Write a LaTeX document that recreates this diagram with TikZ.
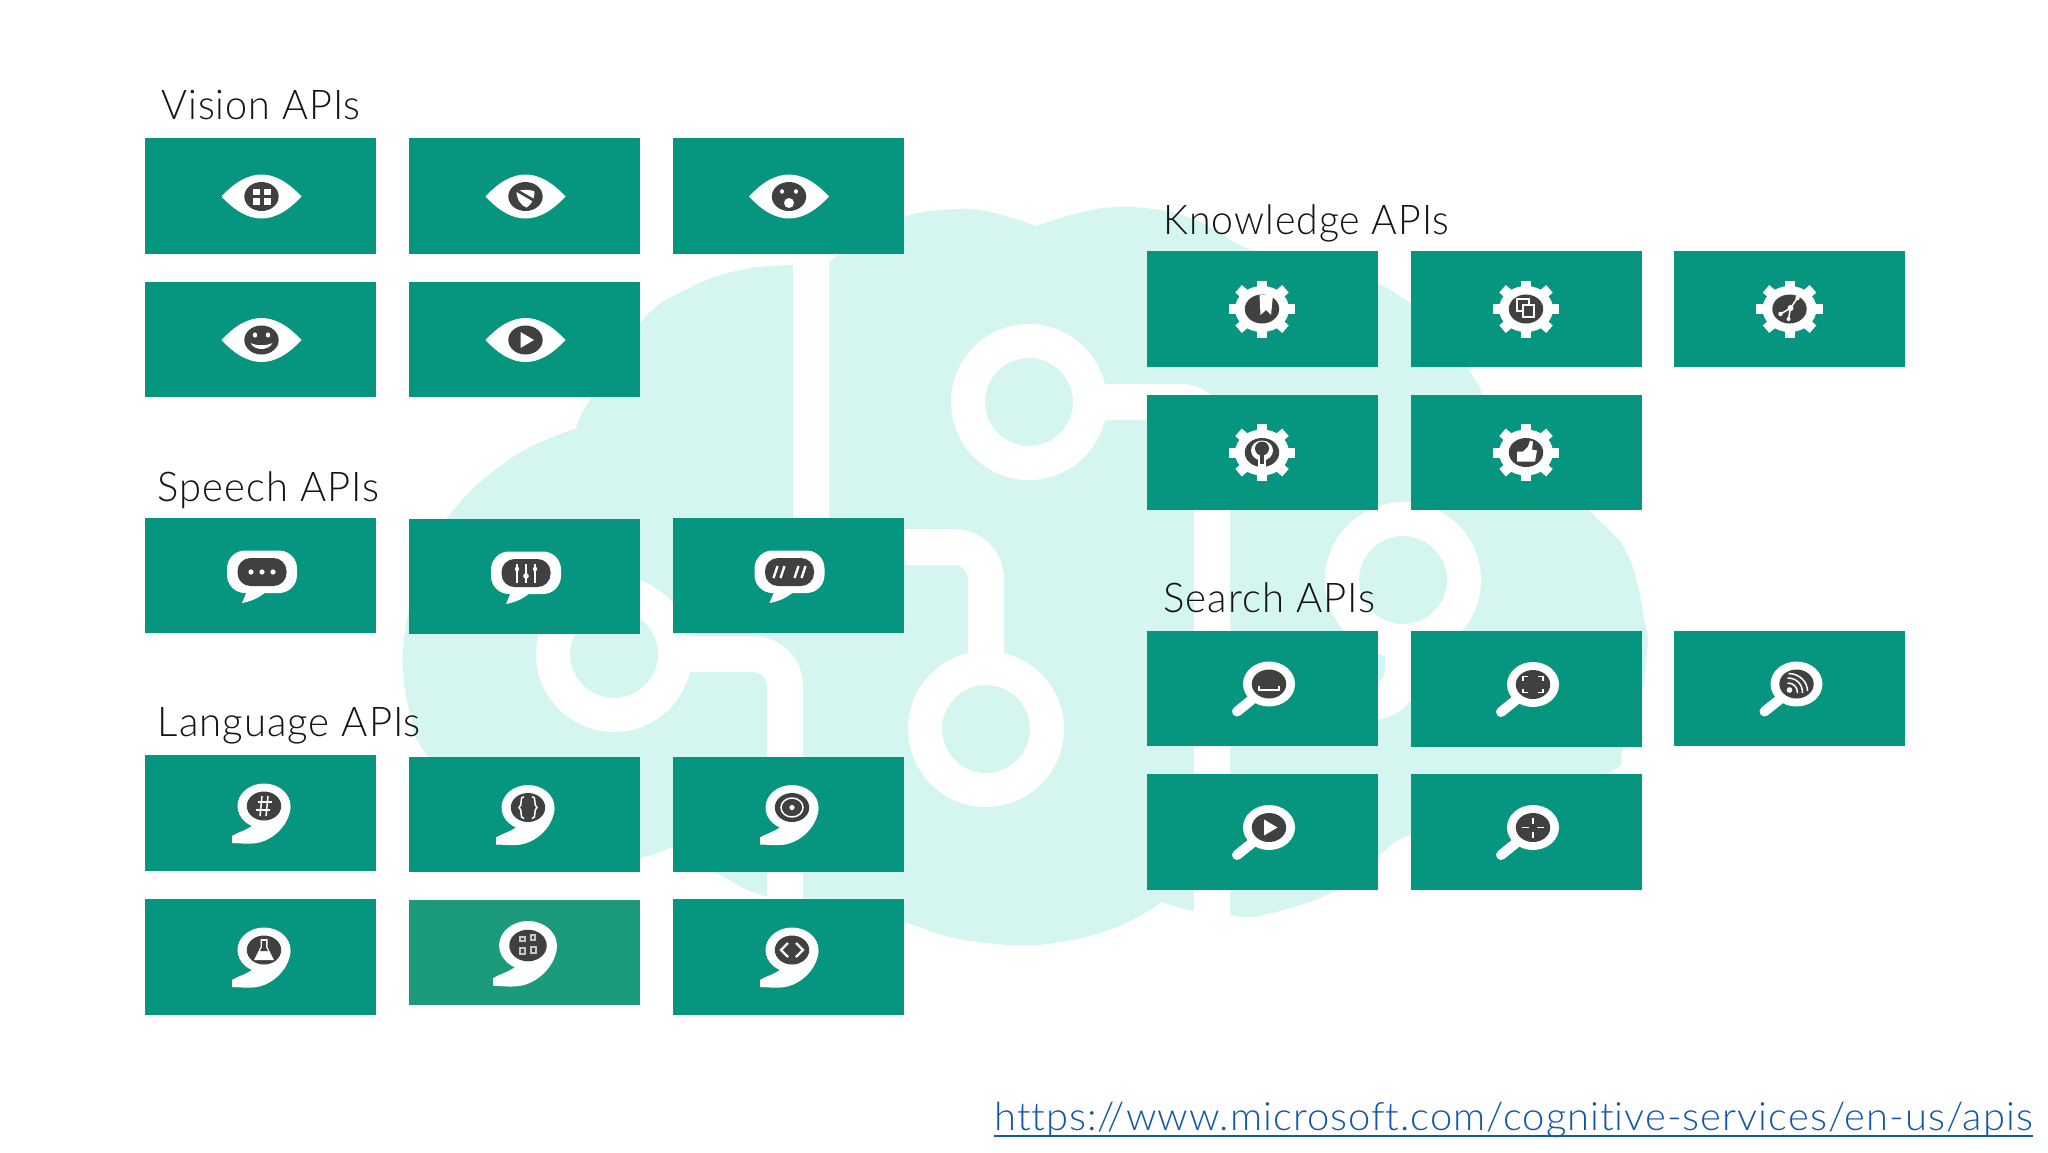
\documentclass[tikz,border=0pt]{standalone}
\usepackage{graphicx}
\usepackage{fontspec}
\newfontfamily\lightfont[Ligatures={NoCommon,NoRequired,NoContextual},LetterSpace=2.5]{Lato Light}
\definecolor{tilec}{HTML}{06957E}
\definecolor{tilesoft}{HTML}{1B9A7C}
\definecolor{cloudc}{HTML}{D5F6F0}
\definecolor{darkc}{HTML}{404040}
\definecolor{linkc}{HTML}{1457A8}
\definecolor{labelc}{HTML}{141414}
\newlength\fitlen
\newcommand\fitw[2]{\settowidth\fitlen{#2}\pgfmathsetmacro\fitf{#1/\fitlen}\scalebox{\fitf}[1]{#2}}
\tikzset{
  tile/.style={fill=tilec,draw=none,inner sep=0pt,minimum width=115.5pt,minimum height=57.75pt},
  softtile/.style={tile,fill=tilesoft,minimum height=52.5pt},
  heading/.style={anchor=base west,inner sep=0pt,text=labelc,font=\lightfont\fontsize{20.5}{24}\selectfont},
  linktext/.style={anchor=base west,inner sep=0pt,text=linkc,font=\lightfont\fontsize{19.5}{24}\selectfont},
  trace/.style={draw=white,line width=18pt,rounded corners=16pt},
  ring/.style={draw=white,line width=17pt,fill=cloudc},
  glyph/.style={fill=white,draw=none},
  stroke/.style={draw=white,line width=.75pt},
  thick stroke/.style={draw=white,line width=1.2pt},
}
\newcommand\pupil{\fill[darkc] (0,0) ellipse [x radius=17.2, y radius=14.5];}
\newcommand\eyeicon[2]{\begin{scope}[shift={(#1.center)},shift={(1,0.5)}]
  \fill[white] (-40,0) .. controls (-26,-15) and (-13,-22) .. (0,-22) .. controls (13,-22) and (26,-15) .. (40,0)
   .. controls (26,15) and (13,22) .. (0,22) .. controls (-13,22) and (-26,15) .. (-40,0) -- cycle;
  \pupil #2\end{scope}}
\newcommand\bubbleicon[2]{\begin{scope}[shift={(#1.center)},shift={(1.5,-3.5)}]
  \fill[white,rounded corners=9pt] (-35,-21.5) rectangle (35,21);
  \fill[white] (-15,19) -- (-20,31) .. controls (-10,29) and (-3,26) .. (5,19) -- cycle;
  \fill[darkc,rounded corners=6.5pt] (-24.5,-14) rectangle (24.5,14);
  #2\end{scope}}
\newcommand\commaicon[3][1]{\begin{scope}[shift={(#2.center)},shift={(4,-7)},scale=#1]
  \fill[white] (0,0) ellipse [x radius=26.5, y radius=22.5];
  \fill[white] (26.5,0) .. controls (26.5,18) and (8,37) .. (-12,37.5) .. controls (-20,38) and (-26,37) .. (-32,37)
    -- (-32,30) .. controls (-26,26) and (-16,24) .. (-10,18) -- cycle;
  \pupil #3\end{scope}}
\newcommand\gearicon[2]{\begin{scope}[shift={(#1.center)}]
  \foreach \a in {0,45,...,315}{\draw[white,line width=5pt] (0,0) -- ({33.2*cos(\a)},{28.5*sin(\a)});}
  \fill[white] (0,0) ellipse [x radius=27, y radius=23];
  \pupil #2\end{scope}}
\newcommand\lensicon[2]{\begin{scope}[shift={(#1.center)}]
  \draw[white,line width=5pt,line cap=round] (-10,11) -- (-25,23);
  \begin{scope}[shift={(7,-4.5)}]
  \fill[white] (0,0) ellipse [x radius=26, y radius=22.5];
  \pupil #2\end{scope}\end{scope}}
\begin{document}
\begin{tikzpicture}[x=0.5pt,y=-0.5pt]
\useasboundingbox (0,0) rectangle (2048,1152);
\fill[white] (0,0) rectangle (2048,1152);
% cloud
\fill[cloudc]
  plot[smooth,tension=.7] coordinates {(578,428)(513,457)(448,517)(415,590)(405,633)(403,670)(410,713)(427,755)(500,830)(580,866)(640,858)(671,847)}
  -- plot[smooth,tension=.7] coordinates {(671,847)(720,875)(768,897)(850,912)(903,922)(950,937)(1010,945)(1060,942)(1117,927)(1162,902)}
  -- plot[smooth,tension=.7] coordinates {(1162,902)(1193,911)(1230,915)(1263,915)(1333,892)(1377,857)(1410,835)(1500,805)(1608,773)(1623,747)(1640,700)(1647,653)(1645,623)(1627,553)(1589,510)(1530,440)(1482,395)}
  -- plot[smooth,tension=.7] coordinates {(1482,395)(1467,368)(1410,303)(1330,265)(1252,250)(1200,222)(1153,209)(1097,209)(1037,226)}
  -- plot[smooth,tension=.7] coordinates {(1037,226)(990,212)(957,209)(907,216)(860,240)(829,262)}
  -- plot[smooth,tension=.7] coordinates {(829,262)(790,265)(740,270)(687,289)(640,323)(584,410)(578,428)}
  -- cycle;
% circuit
\coordinate (jt1) at (811,240);
\coordinate (jb1) at (986,729);
\coordinate (cup) at (1029,402);
\coordinate (jb2) at (1212,930);
\coordinate (crt) at (1403,580);
\coordinate (clf) at (614,654);
\coordinate (jb4) at (785,940);
\draw[trace] (jt1) -- (811,547) -- (986,547) -- (jb1);
\draw[trace] (cup) -- (1212,402) -- (jb2);
\draw[trace] (crt) -- (1403,702) -- (1212,702);
\draw[trace] (clf) -- (785,654) -- (jb4);
\draw[ring] (jb1) circle [radius=61];
\draw[ring] (cup) circle [radius=61];
\draw[ring] (crt) circle [radius=61];
\draw[ring] (clf) circle [radius=61];
% tiles
\node[tile] (v1) at (260.5,196) {};
\node[tile] (v2) at (524.5,196) {};
\node[tile] (v3) at (788,196) {};
\node[tile] (v4) at (260.5,339.5) {};
\node[tile] (v5) at (524.5,339.5) {};
\node[tile] (p1) at (260.5,575.5) {};
\node[tile] (p2) at (524.5,576.5) {};
\node[tile] (p3) at (788,575.5) {};
\node[tile] (l1) at (260,813) {};
\node[tile] (l2) at (524,814.5) {};
\node[tile] (l3) at (788,814.5) {};
\node[tile] (l4) at (260,957) {};
\node[softtile] (l5) at (524,952.5) {};
\node[tile] (l6) at (788,957) {};
\node[tile] (k1) at (1262,309) {};
\node[tile] (k2) at (1526,309) {};
\node[tile] (k3) at (1789.5,309) {};
\node[tile] (k4) at (1262,452.5) {};
\node[tile] (k5) at (1526,452.5) {};
\node[tile] (s1) at (1262,688.5) {};
\node[tile] (s2) at (1526,689) {};
\node[tile] (s3) at (1789.5,688.5) {};
\node[tile] (s4) at (1262,832) {};
\node[tile] (s5) at (1526,832) {};
% headings
\node[heading] (hv) at (161,119) {\fitw{99.5}{Vision APIs}};
\node[heading] (hp) at (157.5,501) {\fitw{110.5}{Speech APIs}};
\node[heading] (hl) at (157.5,736) {\fitw{131.5}{Language APIs}};
\node[heading] (hk) at (1163,234) {\fitw{143}{Knowledge APIs}};
\node[heading] (hs) at (1163,612) {\fitw{106}{Search APIs}};
\node[linktext] (url) at (994,1130) {\fitw{519}{https://www.microsoft.com/cognitive-services/en-us/apis}};
\draw[draw=linkc,line width=1pt] ([yshift=-3pt]url.base west) -- ([yshift=-3pt]url.base east);
% vision icons
\eyeicon{v1}{\fill[glyph] (-9,-8) rectangle (-2,-1.5); \fill[glyph] (2,-8) rectangle (9,-1.5); \fill[glyph] (-9,1.5) rectangle (-2,8); \fill[glyph] (2,1.5) rectangle (9,8);}
\eyeicon{v2}{\fill[glyph] (-9,-6) .. controls (-3,-6) and (2,-8) .. (9,-5) .. controls (9,3) and (5,9) .. (1,11) .. controls (-6,8) and (-9,2) .. (-9,-6) -- cycle;
  \draw[draw=darkc,line width=1.4pt] (-12,-8) -- (12,6);}
\eyeicon{v3}{\fill[glyph] (-7,-5) ellipse [x radius=2, y radius=2.3]; \fill[glyph] (7,-5) ellipse [x radius=2, y radius=2.3]; \fill[glyph] (0,6.5) ellipse [x radius=5, y radius=5];}
\eyeicon{v4}{\fill[glyph] (-6.5,-5) ellipse [x radius=2.2, y radius=2.6]; \fill[glyph] (6.5,-5) ellipse [x radius=2.2, y radius=2.6];
  \fill[glyph] (-11,3) .. controls (-7,11) and (7,11) .. (11,3) .. controls (5,6) and (-5,6) .. (-11,3) -- cycle;}
\eyeicon{v5}{\fill[glyph] (-5,-8) -- (8.5,0) -- (-5,8) -- cycle;}
% speech icons
\bubbleicon{p1}{\fill[glyph] (-11,0) circle [radius=2.6]; \fill[glyph] (0,0) circle [radius=2.6]; \fill[glyph] (11,0) circle [radius=2.6];}
\bubbleicon{p2}{\draw[stroke] (-9,-9) -- (-9,10); \draw[stroke] (0,-9) -- (0,10); \draw[stroke] (9,-9) -- (9,10);
  \fill[glyph] (-9,-4) circle [radius=2.2]; \fill[glyph] (0,3) circle [radius=2.8]; \fill[glyph] (9,-4) circle [radius=2.2];}
\bubbleicon{p3}{\draw[thick stroke] (-16,6) -- (-12,-6); \draw[thick stroke] (-9,6) -- (-5,-6); \draw[thick stroke] (5,6) -- (9,-6); \draw[thick stroke] (12,6) -- (16,-6);}
% language icons
\commaicon{l1}{\draw[stroke] (-6,-4) -- (8,-4); \draw[stroke] (-8,4) -- (6,4); \draw[stroke] (-2,-10) -- (-4,10); \draw[stroke] (4,-10) -- (2,10);}
\commaicon{l2}{\draw[stroke] (-4,-11) .. controls (-9,-11) and (-5,-2) .. (-9,0) .. controls (-5,2) and (-9,11) .. (-4,11);
  \draw[stroke] (4,-11) .. controls (9,-11) and (5,-2) .. (9,0) .. controls (5,2) and (9,11) .. (4,11);}
\commaicon{l3}{\draw[stroke] (0,0) ellipse [x radius=11, y radius=9.5]; \fill[glyph] (0,0) circle [radius=2.6];}
\commaicon{l4}{\fill[glyph] (-3.5,-11) -- (3.5,-11) -- (3.5,-3) -- (10,10) -- (-10,10) -- (-3.5,-3) -- cycle; \fill[darkc] (-1.8,-9) -- (1.8,-9) -- (1.8,-3) -- (4,1) -- (-4,1) -- (-1.8,-3) -- cycle;}
\commaicon[1.09]{l5}{\fill[white!70!darkc] (-8,-9) rectangle (-2,-3); \fill[white!70!darkc] (2,-11) rectangle (7,-4); \fill[white!70!darkc] (-8,1) rectangle (-2,9); \fill[white!70!darkc] (2,0) rectangle (8,8);
  \fill[darkc] (-6,-7) rectangle (-4,-5); \fill[darkc] (-6,3) rectangle (-4,7); \fill[darkc] (4,-9) rectangle (5.5,-6); \fill[darkc] (4,2) rectangle (6,6);}
\commaicon{l6}{\draw[thick stroke] (-4,-7) -- (-11,0) -- (-4,7); \draw[thick stroke] (4,-7) -- (11,0) -- (4,7);}
% knowledge icons
\gearicon{k1}{\fill[glyph] (-2.5,-14) -- (11,-14) -- (9,6) -- (4,1) -- (-1.5,6) -- cycle;}
\gearicon{k2}{\draw[stroke] (-9,-10) rectangle (3,2); \draw[stroke,fill=darkc] (-3,-4) rectangle (8,8);}
\gearicon{k3}{\draw[stroke] (-9,5) -- (1,-1) -- (8,-11); \draw[stroke] (1,-1) -- (-1,10); \fill[glyph] (1,-1) circle [radius=3]; \fill[glyph] (8,-11) circle [radius=2.2]; \fill[glyph] (-9,5) circle [radius=2.2]; \fill[glyph] (-1,10) circle [radius=2];}
\gearicon{k4}{\fill[glyph] (0,-2) ellipse [x radius=11, y radius=10]; \fill[glyph] (-4,6) rectangle (4,14.5);
  \fill[darkc] (0,-4) circle [radius=7]; \fill[darkc] (-2.2,0) rectangle (2.2,11);}
\gearicon{k5}{\fill[glyph] (-9,-1) -- (-3,-1) -- (2,-6) -- (4,-12) -- (7,-11) -- (6,-3) -- (11,-2) -- (9,9) -- (-9,9) -- cycle;}
% search icons
\lensicon{s1}{\draw[stroke] (-10,2) -- (-10,6) -- (10,6) -- (10,2);}
\lensicon{s2}{\draw[stroke] (-10,-4) -- (-10,-8) -- (-5,-8); \draw[stroke] (5,-8) -- (10,-8) -- (10,-4); \draw[stroke] (-10,4) -- (-10,8) -- (-5,8); \draw[stroke] (5,8) -- (10,8) -- (10,4);}
\lensicon{s3}{\fill[glyph] (-7,6) circle [radius=2.8]; \draw[stroke] (-9,-1) .. controls (-3,-1) and (1,3) .. (1,9); \draw[stroke] (-9,-6) .. controls (0,-6) and (6,0) .. (6,9); \draw[stroke] (-8,-10.5) .. controls (3,-10.5) and (11,-2) .. (11,7);}
\lensicon{s4}{\fill[glyph] (-5,-8) -- (8.5,0) -- (-5,8) -- cycle;}
\lensicon{s5}{\draw[stroke] (-11,0) -- (-4,0); \draw[stroke] (4,0) -- (11,0); \draw[stroke] (0,-10) -- (0,-4); \draw[stroke] (0,4) -- (0,10);}
\end{tikzpicture}
\end{document}
